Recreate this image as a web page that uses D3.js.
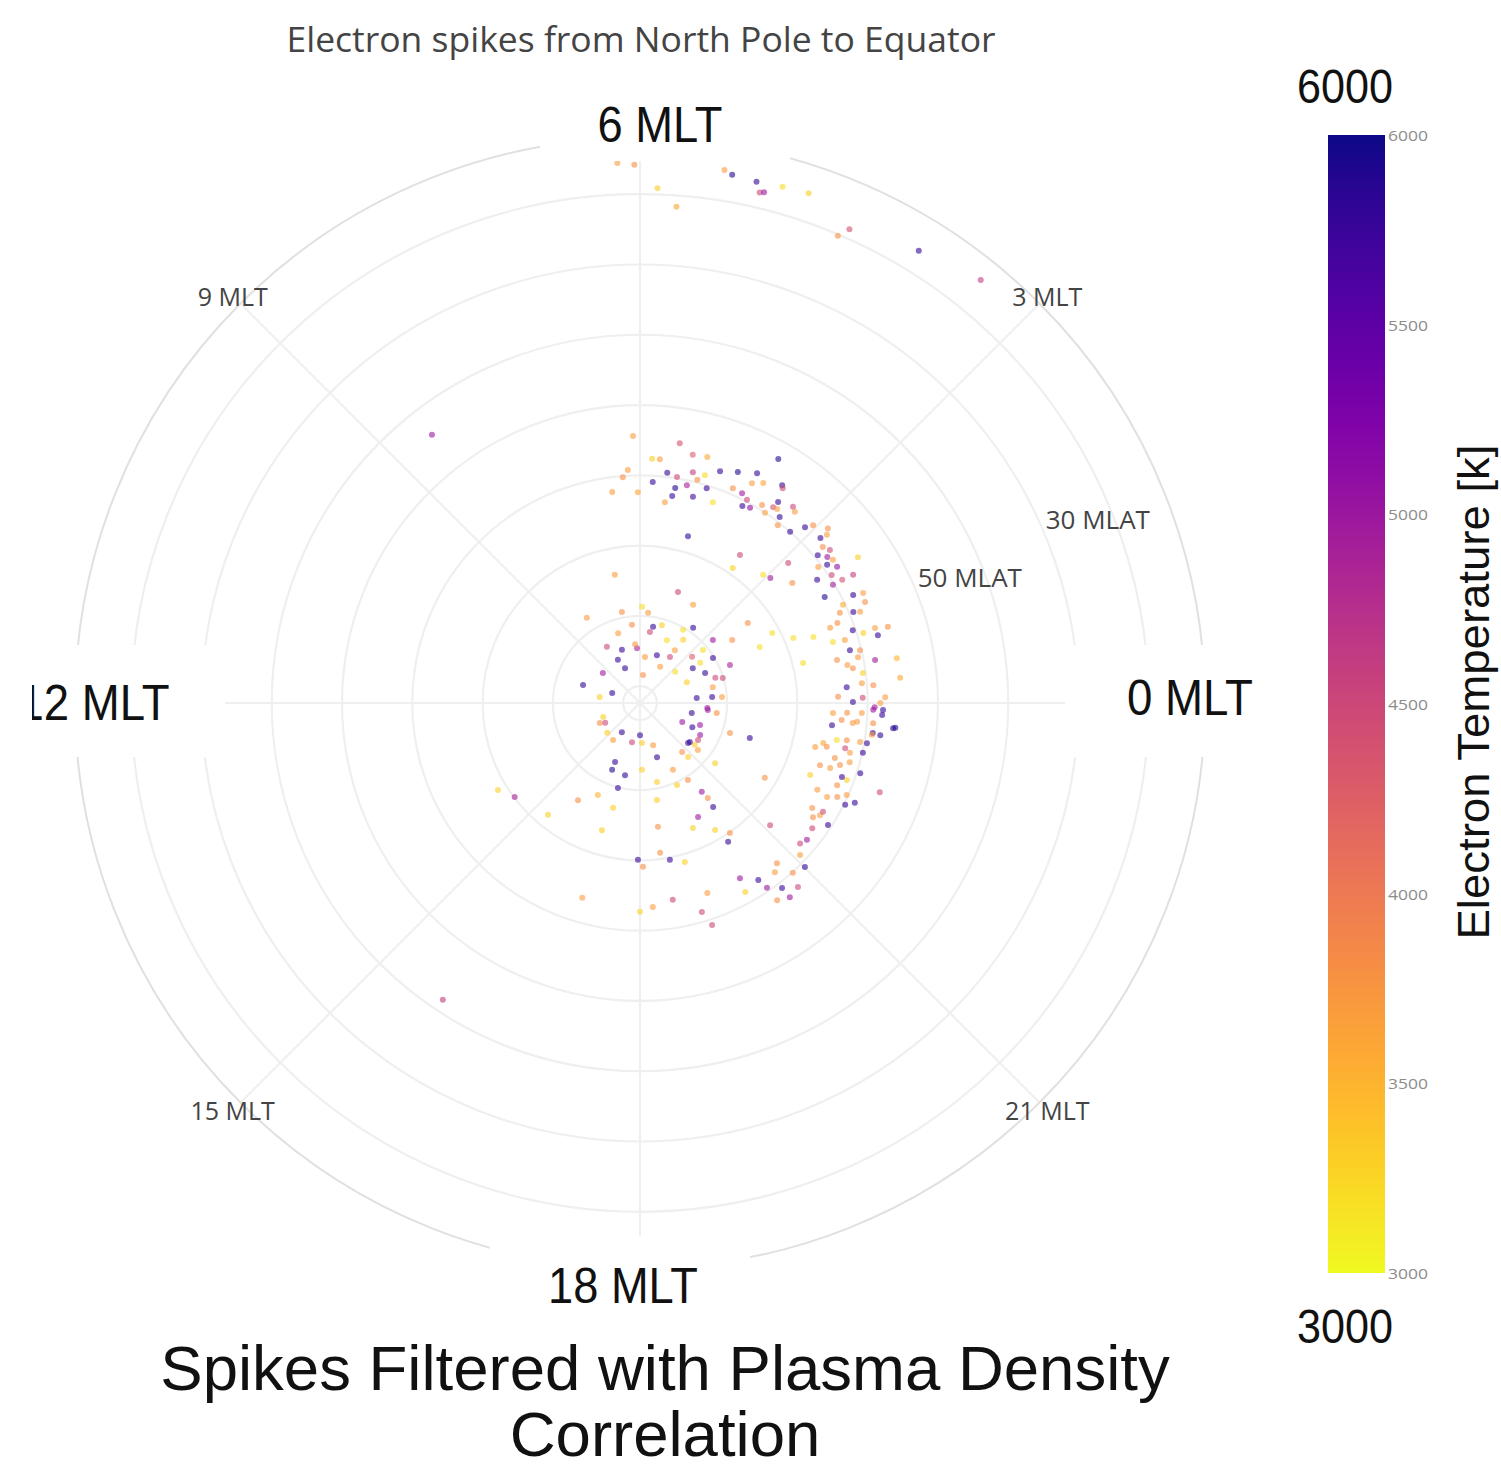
<!DOCTYPE html>
<html>
<head>
<meta charset="utf-8">
<script src="https://cdn.jsdelivr.net/npm/d3@7"></script>
<style>
  html, body { margin: 0; padding: 0; background: #ffffff; }
  svg { display: block; }
</style>
</head>
<body>
<svg id="chart" width="1501" height="1470"></svg>
<script>
// Electron temperature spikes, one entry per spike:
// magnetic local time (hours), magnetic latitude (degrees), electron temperature (K)
const spikeMLT = [
  6.16, 6.04, 5.87, 5.72, 5.40, 5.34, 5.16, 5.12, 5.09, 4.97, 4.78, 4.47, 4.41, 3.89, 3.41,
  8.52, 15.76, 14.10, 14.46, 15.37, 15.83, 16.90,
  6.10, 5.42, 5.20, 4.98, 5.81, 5.69, 4.03, 6.20, 6.29, 5.55, 5.38, 5.14, 4.73, 4.47, 4.20,
  4.94, 5.04, 5.78, 5.19, 5.38, 4.85, 5.41, 5.04, 4.20, 4.05, 3.79, 3.76, 4.44, 4.27, 4.15,
  4.17, 4.04, 3.89, 3.78, 3.72, 3.70, 3.65, 3.54, 3.47, 3.40, 3.48, 3.25, 3.12, 3.05, 5.53,
  4.67, 6.04, 6.50, 4.93, 2.86, 2.83, 2.80, 2.70, 2.59, 2.65, 2.53, 2.44, 2.43, 2.31, 2.49,
  2.25, 2.25, 2.09, 2.07, 2.32, 2.10, 1.99, 1.79, 1.75, 1.61, 1.72, 1.62, 1.54, 1.50, 1.47,
  1.44, 1.26, 1.16, 1.18, 1.14, 1.06, 1.14, 1.17, 0.94, 0.90, 0.79, 0.69, 0.66, 0.37, 0.82,
  0.69, 0.62, 0.51, 0.29, 0.34, 0.29, 0.09, 0.12, 0.02, 0.09, 23.93, 23.89, 23.62, 23.51,
  23.67, 23.82, 23.80, 23.56, 23.32, 23.29, 23.33, 23.18, 0.92, 2.55, 2.89, 2.92, 3.73, 3.70,
  3.08, 1.53, 1.67, 2.44, 1.86, 1.39,
  6.74, 6.75, 5.92, 5.66, 8.13, 6.39, 5.35, 4.95, 5.47, 4.74, 4.11, 3.65, 3.97, 3.71, 7.16,
  8.03, 7.25, 6.21, 6.32, 9.40, 7.81, 7.55, 10.83, 10.69, 11.43, 5.59, 4.70, 3.79, 4.06, 5.59,
  4.45, 3.77, 2.77, 2.67, 2.72, 2.11, 2.25, 2.23, 1.65, 1.23, 0.82, 2.29, 1.53, 1.12, 2.77,
  1.60, 0.33, 0.32, 0.28, 23.72, 23.51, 23.27, 22.38, 22.35, 22.13, 21.35, 21.51, 22.77, 22.82,
  13.38, 13.77, 14.82, 15.59, 15.88, 18.00, 17.23, 19.15, 13.98, 18.19, 22.66, 23.61, 21.47,
  21.83, 20.71, 20.78, 21.40, 19.16, 19.75, 20.13, 16.47, 16.49, 17.22, 17.03, 21.42, 18.11,
  18.81, 19.62, 16.36, 17.04, 16.89, 18.66, 20.32, 20.37, 20.34, 19.80, 18.55, 19.53, 20.04,
  20.31, 20.16, 18.51, 18.72, 17.95, 18.07, 19.05, 21.94, 21.12,
  19.98, 20.25, 20.30, 20.50, 20.32, 20.51, 20.71, 19.94, 19.30, 18.63, 18.24, 19.10, 19.20,
  18.00, 20.70, 20.57, 20.80, 21.01, 21.10, 21.25, 21.38, 21.60, 21.77, 21.87, 21.80, 21.95,
  21.91, 22.22, 22.30, 22.24, 22.34, 22.40, 22.49, 22.64, 22.66, 22.82, 22.64, 22.26, 22.47,
  22.73, 22.74, 22.85, 22.95, 22.95, 23.17, 23.11, 23.16, 23.33, 23.12, 23.06, 23.68, 23.64,
  23.67, 23.48, 23.49, 23.63, 23.83, 23.89, 23.81, 0.00
];
const spikeMLAT = [
  15.5, 15.8, 19.1, 21.6, 15.6, 16.1, 16.4, 17.8, 17.6, 16.2, 16.0, 20.2, 18.7, 16.8, 15.1,
  44.1, 41.7, 68.7, 70.1, 71.8, 76.0, 63.5,
  54.4, 55.0, 56.3, 56.1, 57.6, 57.6, 52.5, 59.2, 60.2, 59.4, 59.8, 58.7, 57.5, 56.7, 55.7,
  58.7, 59.6, 60.9, 60.7, 61.4, 60.4, 62.6, 62.1, 57.3, 56.5, 55.4, 55.7, 59.1, 59.2, 59.7,
  60.8, 60.5, 59.3, 60.0, 58.7, 57.7, 58.6, 59.3, 57.0, 57.4, 60.4, 60.0, 58.1, 57.1, 63.6,
  62.0, 62.4, 62.1, 67.7, 55.9, 57.6, 56.6, 58.2, 57.7, 59.5, 58.6, 58.2, 59.3, 58.3, 60.5,
  55.1, 59.6, 58.7, 57.0, 61.7, 60.2, 62.1, 58.4, 57.0, 57.3, 60.3, 61.2, 59.4, 58.5, 62.1,
  63.3, 60.4, 59.1, 57.3, 55.5, 57.2, 61.9, 63.6, 61.6, 60.2, 60.7, 58.4, 55.3, 55.2, 63.7,
  62.4, 61.7, 60.4, 62.9, 60.7, 59.1, 57.5, 64.2, 62.1, 60.7, 59.0, 57.8, 56.2, 59.0,
  61.4, 62.9, 64.9, 64.9, 62.5, 63.9, 60.6, 65.7, 68.5, 64.8, 63.4, 66.7, 67.0, 69.1,
  67.1, 68.7, 73.6, 73.3, 71.1, 66.0,
  73.8, 79.2, 78.7, 79.5, 78.1, 81.2, 81.4, 80.9, 82.2, 75.7, 76.5, 79.3, 80.3, 81.5, 82.0,
  83.1, 84.4, 84.6, 84.0, 85.6, 85.5, 87.0, 83.9, 88.2, 86.6, 85.8, 85.2, 84.6, 86.5, 88.4,
  82.7, 83.4, 82.5, 80.7, 78.7, 80.2, 82.1, 83.4, 82.2, 81.1, 81.8, 76.5, 78.5, 80.1, 85.7,
  85.1, 84.3, 82.1, 80.7, 82.8, 81.4, 84.9, 85.8, 84.2, 82.7, 83.5, 82.6, 78.9, 76.0,
  86.8, 86.0, 86.1, 85.9, 87.5, 87.8, 86.7, 86.1, 86.7, 86.7, 83.3, 82.7, 83.4,
  82.6, 83.2, 82.1, 81.8, 84.3, 81.8, 79.5, 83.3, 82.1, 81.9, 79.9, 78.7, 82.9,
  80.9, 79.6, 78.0, 77.0, 73.5, 78.4, 77.0, 75.8, 74.3, 74.2, 74.6, 73.1, 71.4,
  69.9, 69.0, 70.9, 69.7, 70.1, 69.1, 68.9, 71.7, 67.0,
  63.7, 62.1, 60.5, 59.2, 58.2, 57.5, 57.9, 61.6, 63.7, 64.0, 63.3, 61.4, 59.2,
  62.7, 62.4, 61.6, 59.9, 59.3, 61.0, 62.1, 61.7, 62.1, 62.9, 62.2, 60.5, 62.1,
  63.7, 62.6, 61.3, 59.8, 58.7, 60.2, 62.0, 61.0, 61.8, 59.5, 56.0, 64.3, 66.1,
  65.3, 63.8, 62.6, 61.4, 63.6, 62.5, 61.7, 59.9, 59.6, 65.1, 66.7, 63.6, 62.0,
  59.1, 59.1, 57.9, 55.9, 60.8, 59.2, 57.9, 58.2
];
const spikeTe = [
  3700, 3800, 3300, 3600, 3700, 5900, 5800, 4500, 5000, 3200, 3300, 3800, 4400, 5800, 4600,
  5000, 4600, 3300, 4900, 3300, 3800, 3700,
  3700, 4400, 4300, 3600, 3300, 3700, 5900, 3700, 3800, 5800, 4500, 4600, 5800, 5900, 5800,
  3200, 3800, 5800, 4900, 5900, 5800, 5800, 5700, 3700, 3600, 5800, 4500, 3800, 5000, 4500,
  5800, 5100, 3800, 3700, 4400, 5800, 3700, 5800, 4500, 3700, 3800, 5800, 5800, 3800, 3700,
  3200, 3600, 3700, 5800, 3800, 5800, 3700, 3800, 4500, 5800, 5000, 3700, 5800, 5100, 3700,
  3300, 4500, 4400, 4600, 5800, 5000, 5900, 5800, 3700, 3800, 3600, 3800, 5800, 3700, 3800,
  3700, 5800, 3300, 3700, 3800, 5800, 3700, 3200, 5800, 3800, 3700, 5000, 3500, 3600, 3800,
  3700, 3800, 3300, 5800, 3700, 3800, 3700, 3800, 5800, 4500, 5000, 5800, 5900, 5800,
  3700, 3800, 3700, 5800, 3800, 3200, 3700, 3600, 3200, 3800, 4500, 5000, 4500, 3300,
  3200, 3200, 3200, 3800, 3200, 3200,
  3700, 3800, 3200, 3700, 3700, 3800, 5800, 3300, 4500, 4500, 3700, 5800, 3200, 3300, 3700,
  4500, 5800, 4900, 3700, 5000, 5800, 5800, 5800, 5800, 3300, 3700, 5800, 4500, 3700, 3800,
  3200, 3700, 4300, 3200, 5000, 5800, 3200, 5800, 5800, 4500, 3700, 3800, 4900, 4500, 3200,
  3300, 5800, 5800, 3700, 5000, 3800, 5800, 5000, 5800, 5000, 5800, 3300, 3800, 5800,
  3300, 3800, 3300, 3700, 5800, 5800, 4500, 3700, 4500, 3300, 5000, 5000, 5800,
  4500, 3800, 3300, 3700, 5800, 3700, 3800, 5800, 5900, 5800, 5800, 3300, 3300,
  3300, 3300, 3500, 3300, 3300, 3300, 5000, 3800, 5800, 5000, 3800, 3300, 3300,
  3800, 5800, 3800, 5800, 5800, 3800, 3300, 3800, 4500,
  5000, 5800, 5000, 5800, 3800, 5000, 4500, 3300, 3700, 4500, 3700, 4500, 4500,
  3300, 3800, 3700, 3800, 5800, 3700, 4500, 5000, 4500, 3800, 3700, 5800, 4500,
  3800, 3700, 3800, 5800, 5800, 3700, 3800, 3300, 5800, 5800, 4500, 3700, 3300,
  3800, 3700, 3800, 3700, 3800, 4500, 3700, 5800, 5800, 3800, 3700, 3800, 3700,
  3800, 3700, 5800, 5900, 3700, 5000, 5800, 3700
];

// Polar grid: latitude rings, local-time spokes and their labels
const latRings = [90, 80, 70, 60, 50, 40, 30, 20];
const latLabels = [50, 30];
const mltSpokes = [0, 3, 6, 9, 12, 15, 18, 21];
const mltMinorLabels = [3, 9, 15, 21];
const mltMajorLabels = ["0 MLT", "6 MLT", "12 MLT", "18 MLT"];
const colorbarTicks = [3000, 3500, 4000, 4500, 5000, 5500, 6000];
const tempRange = [3000, 6000];

const svg = d3.select("#chart");
const cx = 640, cy = 703, R = 565;
const sansOpen = "'Open Sans', 'DejaVu Sans', sans-serif";
const sansArial = "'Liberation Sans', Arial, sans-serif";

const rScale = d3.scaleLinear().domain([92.4, 12]).range([0, R]);
const aScale = d3.scaleLinear().domain([0, 24]).range([0, 2 * Math.PI]);
const color = d3.scaleSequential(d3.interpolatePlasma).domain([tempRange[1], tempRange[0]]);

function polar(h, r) {
  const a = aScale(h);
  return [cx + r * Math.cos(a), cy - r * Math.sin(a)];
}

// grid
const grid = svg.append("g");
grid.selectAll("circle.ring").data(latRings).join("circle")
  .attr("cx", cx).attr("cy", cy).attr("r", d => rScale(d))
  .attr("fill", "none").attr("stroke", "#efefef").attr("stroke-width", 2.2);
grid.selectAll("line.spoke").data(mltSpokes).join("line")
  .attr("x1", cx).attr("y1", cy)
  .attr("x2", d => polar(d, R)[0]).attr("y2", d => polar(d, R)[1])
  .attr("stroke", "#efefef").attr("stroke-width", 2.2);
grid.append("circle").attr("cx", cx).attr("cy", cy).attr("r", R)
  .attr("fill", "none").attr("stroke", "#e0e0e0").attr("stroke-width", 2);

// spikes
svg.append("g").selectAll("circle").data(d3.range(spikeMLT.length)).join("circle")
  .attr("cx", i => polar(spikeMLT[i], rScale(spikeMLAT[i]))[0])
  .attr("cy", i => polar(spikeMLT[i], rScale(spikeMLAT[i]))[1])
  .attr("r", 3)
  .attr("fill", i => color(spikeTe[i]))
  .attr("fill-opacity", 0.6);

// minor local-time labels
svg.append("g").selectAll("text").data(mltMinorLabels).join("text")
  .attr("x", d => polar(d, 576)[0]).attr("y", d => polar(d, 576)[1])
  .attr("text-anchor", "middle").attr("dominant-baseline", "central")
  .attr("font-family", sansOpen).attr("font-size", 25).attr("fill", "#444")
  .text(d => d + " MLT");

// latitude labels along the radial axis
const radialAxisHour = 24.4 / 15;
svg.append("g").selectAll("text").data(latLabels).join("text")
  .attr("x", d => polar(radialAxisHour, rScale(d) + 7)[0])
  .attr("y", d => polar(radialAxisHour, rScale(d) + 7)[1])
  .attr("dominant-baseline", "central")
  .attr("font-family", sansOpen).attr("font-size", 26).attr("fill", "#444")
  .text(d => d + " MLAT");

// major local-time labels on white plates
const majorSpecs = [
  { text: mltMajorLabels[0], x: 1190, y: 715, len: 126, box: [1065, 645, 250, 112] },
  { text: mltMajorLabels[1], x: 660, y: 142, len: 125, box: [540, 92, 250, 69] },
  { text: mltMajorLabels[2], x: 94, y: 720, len: 151, box: [-10, 645, 235, 112] },
  { text: mltMajorLabels[3], x: 623, y: 1303, len: 150, box: [490, 1236, 260, 84] }
];
svg.append("defs").append("clipPath").attr("id", "leftEdge")
  .append("rect").attr("x", 32).attr("y", 0).attr("width", 1469).attr("height", 1470);
const major = svg.append("g");
major.selectAll("rect").data(majorSpecs).join("rect")
  .attr("x", d => d.box[0]).attr("y", d => d.box[1])
  .attr("width", d => d.box[2]).attr("height", d => d.box[3])
  .attr("fill", "#ffffff");
major.selectAll("text").data(majorSpecs).join("text")
  .attr("x", d => d.x).attr("y", d => d.y)
  .attr("text-anchor", "middle")
  .attr("font-family", sansArial).attr("font-size", 50).attr("fill", "#111")
  .attr("textLength", d => d.len).attr("lengthAdjust", "spacingAndGlyphs")
  .attr("clip-path", d => d.text === "12 MLT" ? "url(#leftEdge)" : null)
  .text(d => d.text);

// title
svg.append("text").attr("x", 641).attr("y", 52).attr("text-anchor", "middle")
  .attr("font-family", sansOpen).attr("font-size", 35.5).attr("fill", "#444")
  .text("Electron spikes from North Pole to Equator");

// bottom caption
const caption = ["Spikes Filtered with Plasma Density", "Correlation"];
svg.append("g").selectAll("text").data(caption).join("text")
  .attr("x", 665).attr("y", (d, i) => 1390 + i * 66)
  .attr("text-anchor", "middle")
  .attr("font-family", sansArial).attr("font-size", 63.5).attr("fill", "#111")
  .text(d => d);

// colorbar
const cbX = 1328, cbW = 57;
const cbScale = d3.scaleLinear().domain(tempRange).range([1273, 135]);
const grad = svg.select("defs").append("linearGradient").attr("id", "cbGrad")
  .attr("x1", 0).attr("y1", 1).attr("x2", 0).attr("y2", 0);
d3.range(0, 1.0001, 0.05).forEach(t => {
  const v = tempRange[0] + t * (tempRange[1] - tempRange[0]);
  grad.append("stop").attr("offset", t).attr("stop-color", color(v));
});
svg.append("rect").attr("x", cbX).attr("y", cbScale(tempRange[1]))
  .attr("width", cbW).attr("height", cbScale(tempRange[0]) - cbScale(tempRange[1]))
  .attr("fill", "url(#cbGrad)");
svg.append("g").selectAll("text").data(colorbarTicks).join("text")
  .attr("x", cbX + cbW + 3).attr("y", d => cbScale(d))
  .attr("dominant-baseline", "central")
  .attr("font-family", sansOpen).attr("font-size", 15).attr("fill", "#8c8c8c")
  .attr("textLength", 40).attr("lengthAdjust", "spacingAndGlyphs")
  .text(d => d);

// colorbar end labels and title
const ends = [{ v: tempRange[1], y: 103 }, { v: tempRange[0], y: 1343 }];
svg.append("g").selectAll("text").data(ends).join("text")
  .attr("x", 1345).attr("y", d => d.y).attr("text-anchor", "middle")
  .attr("font-family", sansArial).attr("font-size", 49).attr("fill", "#111")
  .attr("textLength", 96).attr("lengthAdjust", "spacingAndGlyphs")
  .text(d => d.v);
svg.append("text").attr("transform", "translate(1489,692) rotate(-90)")
  .attr("text-anchor", "middle")
  .attr("font-family", sansArial).attr("font-size", 44).attr("fill", "#111")
  .attr("textLength", 495).attr("lengthAdjust", "spacingAndGlyphs")
  .text("Electron Temperature [k]");
</script>
</body>
</html>
